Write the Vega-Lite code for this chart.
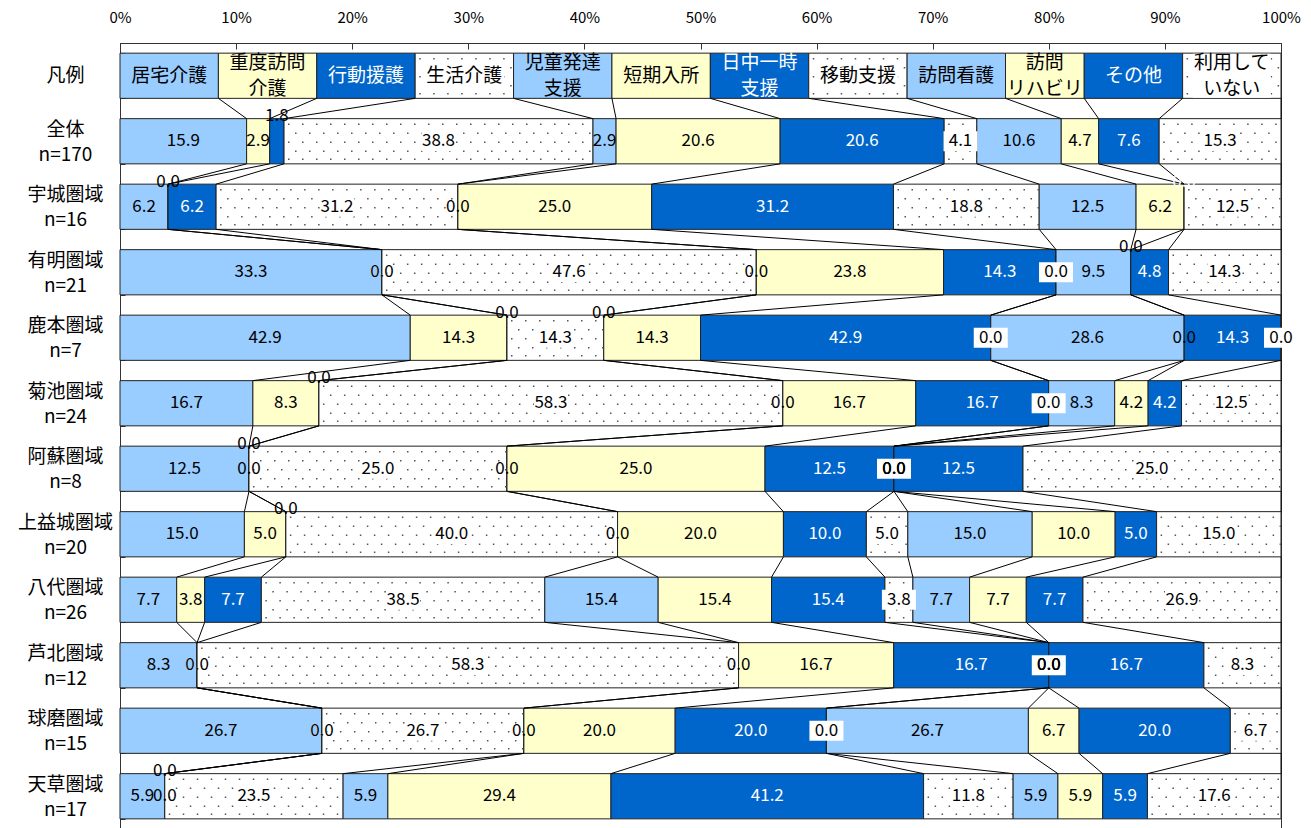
{
  "$schema": "https://vega.github.io/schema/vega-lite/v6.json",
  "width": 1161,
  "height": 786,
  "autosize": "none",
  "padding": {"left": 120, "top": 43, "right": 30, "bottom": 0},
  "background": "white",
  "config": {
    "font": "Noto Sans CJK JP",
    "view": {"stroke": "#333", "strokeWidth": 1},
    "axis": {"labelFont": "Noto Sans CJK JP", "labelColor": "#000", "domainColor": "#333", "tickColor": "#333", "grid": false}
  },
  "datasets": {
    "cats": [
      {"c": "居宅介護", "ci": 1, "lbl": "居宅介護"},
      {"c": "重度訪問介護", "ci": 2, "lbl": "重度訪問\n介護"},
      {"c": "行動援護", "ci": 3, "lbl": "行動援護"},
      {"c": "生活介護", "ci": 4, "lbl": "生活介護"},
      {"c": "児童発達支援", "ci": 5, "lbl": "児童発達\n支援"},
      {"c": "短期入所", "ci": 6, "lbl": "短期入所"},
      {"c": "日中一時支援", "ci": 7, "lbl": "日中一時\n支援"},
      {"c": "移動支援", "ci": 8, "lbl": "移動支援"},
      {"c": "訪問看護", "ci": 9, "lbl": "訪問看護"},
      {"c": "訪問リハビリ", "ci": 10, "lbl": "訪問\nリハビリ"},
      {"c": "その他", "ci": 11, "lbl": "その他"},
      {"c": "利用していない", "ci": 12, "lbl": "利用して\nいない"}
    ],
    "rows": [
      {"r": "凡例", "ri": 0, "居宅介護": 10, "重度訪問介護": 10, "行動援護": 10, "生活介護": 10, "児童発達支援": 10, "短期入所": 10, "日中一時支援": 10, "移動支援": 10, "訪問看護": 10, "訪問リハビリ": 8, "その他": 10, "利用していない": 10},
      {"r": "全体\nn=170", "ri": 1, "居宅介護": 15.9, "重度訪問介護": 2.9, "行動援護": 1.8, "生活介護": 38.8, "児童発達支援": 2.9, "短期入所": 20.6, "日中一時支援": 20.6, "移動支援": 4.1, "訪問看護": 10.6, "訪問リハビリ": 4.7, "その他": 7.6, "利用していない": 15.3},
      {"r": "宇城圏域\nn=16", "ri": 2, "居宅介護": 6.2, "重度訪問介護": 0, "行動援護": 6.2, "生活介護": 31.2, "児童発達支援": 0, "短期入所": 25.0, "日中一時支援": 31.2, "移動支援": 18.8, "訪問看護": 12.5, "訪問リハビリ": 6.2, "その他": 0, "利用していない": 12.5},
      {"r": "有明圏域\nn=21", "ri": 3, "居宅介護": 33.3, "重度訪問介護": 0, "行動援護": 0, "生活介護": 47.6, "児童発達支援": 0, "短期入所": 23.8, "日中一時支援": 14.3, "移動支援": 0, "訪問看護": 9.5, "訪問リハビリ": 0, "その他": 4.8, "利用していない": 14.3},
      {"r": "鹿本圏域\nn=7", "ri": 4, "居宅介護": 42.9, "重度訪問介護": 14.3, "行動援護": 0, "生活介護": 14.3, "児童発達支援": 0, "短期入所": 14.3, "日中一時支援": 42.9, "移動支援": 0, "訪問看護": 28.6, "訪問リハビリ": 0, "その他": 14.3, "利用していない": 0},
      {"r": "菊池圏域\nn=24", "ri": 5, "居宅介護": 16.7, "重度訪問介護": 8.3, "行動援護": 0, "生活介護": 58.3, "児童発達支援": 0, "短期入所": 16.7, "日中一時支援": 16.7, "移動支援": 0, "訪問看護": 8.3, "訪問リハビリ": 4.2, "その他": 4.2, "利用していない": 12.5},
      {"r": "阿蘇圏域\nn=8", "ri": 6, "居宅介護": 12.5, "重度訪問介護": 0, "行動援護": 0, "生活介護": 25.0, "児童発達支援": 0, "短期入所": 25.0, "日中一時支援": 12.5, "移動支援": 0, "訪問看護": 0, "訪問リハビリ": 0, "その他": 12.5, "利用していない": 25.0},
      {"r": "上益城圏域\nn=20", "ri": 7, "居宅介護": 15.0, "重度訪問介護": 5.0, "行動援護": 0, "生活介護": 40.0, "児童発達支援": 0, "短期入所": 20.0, "日中一時支援": 10.0, "移動支援": 5.0, "訪問看護": 15.0, "訪問リハビリ": 10.0, "その他": 5.0, "利用していない": 15.0},
      {"r": "八代圏域\nn=26", "ri": 8, "居宅介護": 7.7, "重度訪問介護": 3.8, "行動援護": 7.7, "生活介護": 38.5, "児童発達支援": 15.4, "短期入所": 15.4, "日中一時支援": 15.4, "移動支援": 3.8, "訪問看護": 7.7, "訪問リハビリ": 7.7, "その他": 7.7, "利用していない": 26.9},
      {"r": "芦北圏域\nn=12", "ri": 9, "居宅介護": 8.3, "重度訪問介護": 0, "行動援護": 0, "生活介護": 58.3, "児童発達支援": 0, "短期入所": 16.7, "日中一時支援": 16.7, "移動支援": 0, "訪問看護": 0, "訪問リハビリ": 0, "その他": 16.7, "利用していない": 8.3},
      {"r": "球磨圏域\nn=15", "ri": 10, "居宅介護": 26.7, "重度訪問介護": 0, "行動援護": 0, "生活介護": 26.7, "児童発達支援": 0, "短期入所": 20.0, "日中一時支援": 20.0, "移動支援": 0, "訪問看護": 26.7, "訪問リハビリ": 6.7, "その他": 20.0, "利用していない": 6.7},
      {"r": "天草圏域\nn=17", "ri": 11, "居宅介護": 5.9, "重度訪問介護": 0, "行動援護": 0, "生活介護": 23.5, "児童発達支援": 5.9, "短期入所": 29.4, "日中一時支援": 41.2, "移動支援": 11.8, "訪問看護": 5.9, "訪問リハビリ": 5.9, "その他": 5.9, "利用していない": 17.6}
    ]
  },
  "data": {"name": "rows"},
  "transform": [
    {"fold": ["居宅介護", "重度訪問介護", "行動援護", "生活介護", "児童発達支援", "短期入所", "日中一時支援", "移動支援", "訪問看護", "訪問リハビリ", "その他", "利用していない"], "as": ["c", "v"]},
    {"lookup": "c", "from": {"data": {"name": "cats"}, "key": "c", "fields": ["ci", "lbl"]}},
    {"stack": "v", "groupby": ["r"], "sort": [{"field": "ci", "order": "ascending"}], "offset": "normalize", "as": ["x0", "x1"]},
    {"calculate": "(datum.x0 + datum.x1) / 2", "as": "xm"},
    {"calculate": "indexof(['1|行動援護','2|重度訪問介護','2|その他','3|訪問リハビリ','4|行動援護','4|児童発達支援','5|行動援護','6|行動援護','7|行動援護','11|行動援護'], datum.ri + '|' + datum.c) >= 0", "as": "up"},
    {"window": [{"op": "lead", "field": "x1", "as": "nx1"}, {"op": "lead", "field": "r", "as": "nr"}], "groupby": ["c"], "sort": [{"field": "ri", "order": "ascending"}]}
  ],
  "encoding": {
    "y": {
      "field": "r", "type": "nominal", "title": null,
      "sort": ["凡例", "全体\nn=170", "宇城圏域\nn=16", "有明圏域\nn=21", "鹿本圏域\nn=7", "菊池圏域\nn=24", "阿蘇圏域\nn=8", "上益城圏域\nn=20", "八代圏域\nn=26", "芦北圏域\nn=12", "球磨圏域\nn=15", "天草圏域\nn=17"],
      "scale": {"paddingInner": 0.31, "paddingOuter": 0.155},
      "axis": {"title": null, "labelExpr": "split(datum.label, '\\n')", "labelAlign": "center", "labelBaseline": "middle", "labelPadding": 60, "tickSize": -5, "tickBand": "extent", "labelFontSize": 19, "labelLineHeight": 25, "labelLimit": 200,
        "labelOffset": {"condition": {"test": "datum.label == '凡例'", "value": 0}, "value": -12}}
    }
  },
  "layer": [
    {
      "mark": {"type": "bar", "stroke": "#222", "strokeWidth": 1},
      "encoding": {
        "x": {"field": "x0", "type": "quantitative", "scale": {"domain": [0, 1]}, "title": null,
          "axis": {"orient": "top", "format": ".0%", "values": [0, 0.1, 0.2, 0.3, 0.4, 0.5, 0.6, 0.7, 0.8, 0.9, 1], "tickSize": -6, "labelPadding": 24, "labelFontSize": 15, "labelFlush": false, "labelOverlap": false, "title": null}},
        "x2": {"field": "x1"},
        "color": {"field": "c", "type": "nominal", "legend": null,
          "scale": {"domain": ["居宅介護", "重度訪問介護", "行動援護", "生活介護", "児童発達支援", "短期入所", "日中一時支援", "移動支援", "訪問看護", "訪問リハビリ", "その他", "利用していない"],
                    "range": ["#99CCFF", "#FFFFCC", "#0066CC", "#FFFFFF", "#99CCFF", "#FFFFCC", "#0066CC", "#FFFFFF", "#99CCFF", "#FFFFCC", "#0066CC", "#FFFFFF"]}}
      }
    },
    {
      "transform": [{"filter": "indexof(['生活介護','移動支援','利用していない'], datum.c) >= 0 && datum.x1 > datum.x0"}],
      "mark": {"type": "rule", "yOffset": -17, "strokeDash": [1.5, 12.5], "strokeDashOffset": 10, "strokeWidth": 1.5, "color": "#555"},
      "encoding": {"x": {"field": "x0", "type": "quantitative", "title": null}, "x2": {"field": "x1"}}
    },
    {
      "transform": [{"filter": "indexof(['生活介護','移動支援','利用していない'], datum.c) >= 0 && datum.x1 > datum.x0"}],
      "mark": {"type": "rule", "yOffset": -8, "strokeDash": [1.5, 12.5], "strokeDashOffset": 3, "strokeWidth": 1.5, "color": "#555"},
      "encoding": {"x": {"field": "x0", "type": "quantitative", "title": null}, "x2": {"field": "x1"}}
    },
    {
      "transform": [{"filter": "indexof(['生活介護','移動支援','利用していない'], datum.c) >= 0 && datum.x1 > datum.x0"}],
      "mark": {"type": "rule", "yOffset": 1, "strokeDash": [1.5, 12.5], "strokeDashOffset": 10, "strokeWidth": 1.5, "color": "#555"},
      "encoding": {"x": {"field": "x0", "type": "quantitative", "title": null}, "x2": {"field": "x1"}}
    },
    {
      "transform": [{"filter": "indexof(['生活介護','移動支援','利用していない'], datum.c) >= 0 && datum.x1 > datum.x0"}],
      "mark": {"type": "rule", "yOffset": 10, "strokeDash": [1.5, 12.5], "strokeDashOffset": 3, "strokeWidth": 1.5, "color": "#555"},
      "encoding": {"x": {"field": "x0", "type": "quantitative", "title": null}, "x2": {"field": "x1"}}
    },
    {
      "transform": [{"filter": "indexof(['生活介護','移動支援','利用していない'], datum.c) >= 0 && datum.x1 > datum.x0"}],
      "mark": {"type": "rule", "yOffset": 18, "strokeDash": [1.5, 12.5], "strokeDashOffset": 10, "strokeWidth": 1.5, "color": "#555"},
      "encoding": {"x": {"field": "x0", "type": "quantitative", "title": null}, "x2": {"field": "x1"}}
    },
    {
      "transform": [{"filter": "datum.ri > 0 && indexof(['生活介護','移動支援','利用していない'], datum.c) >= 0"}],
      "mark": {"type": "rect", "width": 34, "height": 20, "fill": "white"},
      "encoding": {"x": {"field": "xm", "type": "quantitative", "title": null}}
    },
    {
      "transform": [{"filter": "datum.ri == 0 && (datum.c == '生活介護' || datum.c == '移動支援')"}],
      "mark": {"type": "rect", "width": 80, "height": 24, "fill": "white"},
      "encoding": {"x": {"field": "xm", "type": "quantitative", "title": null}}
    },
    {
      "transform": [{"filter": "datum.ri == 0 && datum.c == '利用していない'"}],
      "mark": {"type": "rect", "width": 78, "height": 44, "fill": "white"},
      "encoding": {"x": {"field": "xm", "type": "quantitative", "title": null}}
    },
    {
      "transform": [{"filter": "datum.nr != null"}],
      "mark": {"type": "rule", "color": "#000", "strokeWidth": 1},
      "encoding": {
        "x": {"field": "x1", "type": "quantitative", "title": null},
        "x2": {"field": "nx1"},
        "y": {"field": "r", "type": "nominal", "bandPosition": 1, "title": null,
          "sort": ["凡例", "全体\nn=170", "宇城圏域\nn=16", "有明圏域\nn=21", "鹿本圏域\nn=7", "菊池圏域\nn=24", "阿蘇圏域\nn=8", "上益城圏域\nn=20", "八代圏域\nn=26", "芦北圏域\nn=12", "球磨圏域\nn=15", "天草圏域\nn=17"],
          "axis": {"title": null, "labelExpr": "split(datum.label, '\\n')", "labelAlign": "center", "labelBaseline": "middle", "labelPadding": 60, "tickSize": -5, "tickBand": "extent", "labelFontSize": 19, "labelLineHeight": 25, "labelLimit": 200,
            "labelOffset": {"condition": {"test": "datum.label == '凡例'", "value": 0}, "value": -12}}},
        "y2": {"field": "nr", "bandPosition": 0}
      }
    },
    {
      "transform": [{"filter": "datum.ri == 0 && indexof(datum.lbl, '\\n') < 0"}],
      "mark": {"type": "text", "fontSize": 19, "baseline": "middle", "align": "center"},
      "encoding": {
        "x": {"field": "xm", "type": "quantitative", "title": null},
        "text": {"field": "lbl", "type": "nominal"},
        "color": {"condition": {"test": "indexof(['行動援護','日中一時支援','その他'], datum.c) >= 0", "value": "#ffffff"}, "value": "#000000"}
      }
    },
    {
      "transform": [{"filter": "datum.ri == 0 && indexof(datum.lbl, '\\n') >= 0"}],
      "mark": {"type": "text", "fontSize": 19, "lineBreak": "\n", "lineHeight": 26, "baseline": "middle", "align": "center", "dy": -13},
      "encoding": {
        "x": {"field": "xm", "type": "quantitative", "title": null},
        "text": {"field": "lbl", "type": "nominal"},
        "color": {"condition": {"test": "indexof(['行動援護','日中一時支援','その他'], datum.c) >= 0", "value": "#ffffff"}, "value": "#000000"}
      }
    },
    {
      "transform": [{"filter": "datum.ri > 0 && !datum.up && indexof(['行動援護','日中一時支援','その他'], datum.c) >= 0"}],
      "mark": {"type": "text", "fontSize": 17, "baseline": "middle", "align": "center", "color": "#ffffff"},
      "encoding": {
        "x": {"field": "xm", "type": "quantitative", "title": null},
        "text": {"field": "v", "type": "quantitative", "format": ".1f"}
      }
    },
    {
      "transform": [{"filter": "datum.ri > 0 && !datum.up && indexof(['行動援護','日中一時支援','その他'], datum.c) < 0"}],
      "mark": {"type": "text", "fontSize": 17, "baseline": "middle", "align": "center", "color": "#000000"},
      "encoding": {
        "x": {"field": "xm", "type": "quantitative", "title": null},
        "text": {"field": "v", "type": "quantitative", "format": ".1f"}
      }
    },
    {
      "transform": [{"filter": "datum.up && datum.c != 'その他'"}],
      "mark": {"type": "text", "fontSize": 17, "baseline": "middle", "align": "center", "color": "#000000", "dy": -25},
      "encoding": {
        "x": {"field": "xm", "type": "quantitative", "title": null},
        "text": {"field": "v", "type": "quantitative", "format": ".1f"}
      }
    },
    {
      "transform": [{"filter": "datum.up && datum.c == 'その他'"}],
      "mark": {"type": "text", "fontSize": 17, "baseline": "middle", "align": "center", "color": "#ffffff", "dy": -25},
      "encoding": {
        "x": {"field": "xm", "type": "quantitative", "title": null},
        "text": {"field": "v", "type": "quantitative", "format": ".1f"}
      }
    }
  ]
}
